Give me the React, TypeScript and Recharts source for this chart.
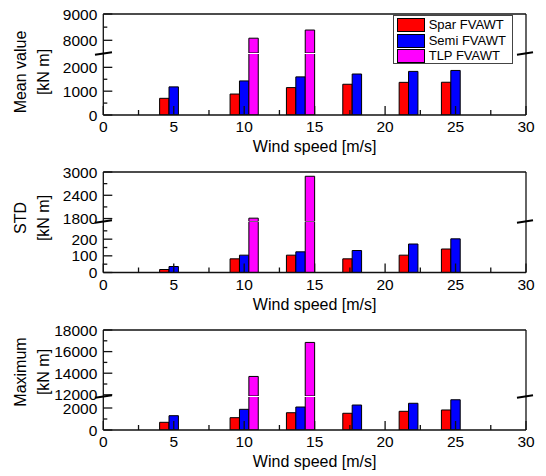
import React from 'react';
import { BarChart, Bar, XAxis, YAxis, ReferenceLine, Legend } from 'recharts';

// ---------- data ----------
const windSpeeds = [5, 10, 14, 18, 22, 25];

const meanSpar: (number | null)[] = [700, 880, 1150, 1290, 1370, 1375];
const meanSemi: (number | null)[] = [1180, 1430, 1600, 1720, 1830, 1870];
const meanTlp: (number | null)[] = [null, 8080, 8390, null, null, null];

const stdSpar: (number | null)[] = [18, 82, 104, 82, 104, 141];
const stdSemi: (number | null)[] = [36, 104, 124, 132, 171, 202];
const stdTlp: (number | null)[] = [null, 1810, 2890, null, null, null];

const maxSpar: (number | null)[] = [700, 1120, 1570, 1520, 1700, 1820];
const maxSemi: (number | null)[] = [1300, 1880, 2090, 2270, 2430, 2750];
const maxTlp: (number | null)[] = [null, 13700, 16850, null, null, null];

const seriesKeys = ['spar', 'semi', 'tlp'];
const seriesNames = ['Spar FVAWT', 'Semi FVAWT', 'TLP FVAWT'];
const seriesColors = ['#ff0000', '#0000ff', '#ff00ff'];

const xTicks = [0, 2.5, 5, 7.5, 10, 12.5, 15, 17.5, 20, 22.5, 25, 27.5, 30];
const xLabelTicks = [0, 5, 10, 15, 20, 25, 30];

const meanUpperTicks = [8000, 8500, 9000];
const meanUpperLabels = [8000, 9000];
const meanLowerTicks = [0, 500, 1000, 1500, 2000];
const meanLowerLabels = [0, 1000, 2000];

const stdUpperTicks = [1800, 2100, 2400, 2700, 3000];
const stdUpperLabels = [1800, 2400, 3000];
const stdLowerTicks = [0, 50, 100, 150, 200, 250];
const stdLowerLabels = [0, 100, 200];

const maxUpperTicks = [12000, 13000, 14000, 15000, 16000, 17000, 18000];
const maxUpperLabels = [12000, 14000, 16000, 18000];
const maxLowerTicks = [0, 1000, 2000];
const maxLowerLabels = [0, 2000];

const makeRows = (a: (number | null)[], b: (number | null)[], c: (number | null)[]) =>
  windSpeeds.map((ws, i) => ({ ws, spar: a[i], semi: b[i], tlp: c[i] }));

// values that lie entirely below the upper segment of a broken axis are not drawn there
const keepAbove = (rows: any[], min: number) =>
  rows.map((r) => {
    const o: any = { ws: r.ws };
    seriesKeys.forEach((k) => {
      o[k] = r[k] != null && r[k] > min ? r[k] : null;
    });
    return o;
  });

// ---------- layout ----------
const W = 546;
const PLOT_LEFT = 103.3;
const PLOT_RIGHT_MARGIN = 20;
const AXIS_COLOR = '#111';
const AXIS_W = 1.3;
const FONT = '"Liberation Sans", Arial, Helvetica, sans-serif';

type PanelSpec = {
  title: string;
  rows: any[];
  plotTop: number;
  breakY: number;
  lowerTop: number;
  bottom: number;
  upperDomain: [number, number];
  lowerDomain: [number, number];
  upperTicks: number[];
  upperLabels: number[];
  lowerTicks: number[];
  lowerLabels: number[];
  titleY: number;
  legend?: boolean;
};

const panels: PanelSpec[] = [
  {
    title: 'Mean value',
    rows: makeRows(meanSpar, meanSemi, meanTlp),
    plotTop: 14, breakY: 53, lowerTop: 54, bottom: 115,
    upperDomain: [7517, 9000], lowerDomain: [0, 2560],
    upperTicks: meanUpperTicks, upperLabels: meanUpperLabels,
    lowerTicks: meanLowerTicks, lowerLabels: meanLowerLabels,
    titleY: 72, legend: true,
  },
  {
    title: 'STD',
    rows: makeRows(stdSpar, stdSemi, stdTlp),
    plotTop: 171.5, breakY: 221, lowerTop: 222, bottom: 272.5,
    upperDomain: [1724, 3000], lowerDomain: [0, 303],
    upperTicks: stdUpperTicks, upperLabels: stdUpperLabels,
    lowerTicks: stdLowerTicks, lowerLabels: stdLowerLabels,
    titleY: 218,
  },
  {
    title: 'Maximum',
    rows: makeRows(maxSpar, maxSemi, maxTlp),
    plotTop: 330, breakY: 396, lowerTop: 397, bottom: 430,
    upperDomain: [11890, 18000], lowerDomain: [0, 3000],
    upperTicks: maxUpperTicks, upperLabels: maxUpperLabels,
    lowerTicks: maxLowerTicks, lowerLabels: maxLowerLabels,
    titleY: 372,
  },
];

// ---------- ticks ----------
const XTick = (props: any) => {
  const { x, y, payload } = props;
  const v = payload.value;
  const major = xLabelTicks.includes(v);
  return (
    <g>
      <line x1={x} x2={x} y1={y} y2={y - (major ? 9 : 5)} stroke={AXIS_COLOR} strokeWidth={AXIS_W} />
      {major && (
        <text x={x} y={y + 17} textAnchor="middle" fontSize={15.5} fill="#000" fontFamily={FONT}>
          {v}
        </text>
      )}
    </g>
  );
};

const makeYTick = (labels: number[]) => (props: any) => {
  const { x, y, payload } = props;
  const v = payload.value;
  const major = labels.includes(v);
  return (
    <g>
      <line x1={x} x2={x + (major ? 9 : 4)} y1={y} y2={y} stroke={AXIS_COLOR} strokeWidth={AXIS_W} />
      {major && (
        <text x={x - 6} y={y} dy="0.36em" textAnchor="end" fontSize={15.5} fill="#000" fontFamily={FONT}>
          {v}
        </text>
      )}
    </g>
  );
};

// ---------- legend ----------
const LegendBox = (props: any) => {
  const payload = [...(props.payload || [])].sort(
    (a: any, b: any) => seriesNames.indexOf(a.value) - seriesNames.indexOf(b.value)
  );
  return (
    <div
      style={{
        position: 'relative',
        width: 120,
        height: 49,
        border: '1px solid #444',
        background: '#fff',
        boxSizing: 'border-box',
        fontFamily: FONT,
      }}
    >
      {payload.map((e: any, i: number) => (
        <div key={i} style={{ position: 'absolute', left: 3, top: 2 + i * 15.7, height: 14, display: 'flex', alignItems: 'center' }}>
          <span
            style={{
              display: 'inline-block',
              width: 28,
              height: 14,
              background: e.color,
              border: '1.2px solid #000',
              boxSizing: 'border-box',
              marginRight: 4,
            }}
          />
          <span style={{ fontSize: 13, color: '#000', lineHeight: '14px', whiteSpace: 'nowrap' }}>{e.value}</span>
        </div>
      ))}
    </div>
  );
};

// ---------- sub chart ----------
type SubProps = {
  rows: any[];
  top: number;
  plotHeight: number;
  domain: [number, number];
  ticks: number[];
  labels: number[];
  showX: boolean;
  topBorder: boolean;
  legend?: boolean;
};

const MT = 12;
const MB = 12;
const XH = 45;

function SubChart({ rows, top, plotHeight, domain, ticks, labels, showX, topBorder, legend }: SubProps) {
  const bottomSpace = showX ? XH : MB;
  const height = MT + plotHeight + bottomSpace;
  return (
    <div style={{ position: 'absolute', left: 0, top: top - MT }}>
      <BarChart
        width={W}
        height={height}
        data={rows}
        margin={{ top: MT, right: PLOT_RIGHT_MARGIN, bottom: showX ? 0 : MB, left: 0 }}
        barGap={0}
        barSize={9.4}
      >
        {seriesKeys.map((k, i) => (
          <Bar
            key={k}
            dataKey={k}
            name={seriesNames[i]}
            fill={seriesColors[i]}
            stroke="#000"
            strokeWidth={1}
            isAnimationActive={false}
          />
        ))}
        <XAxis
          type="number"
          dataKey="ws"
          domain={[0, 30]}
          ticks={xTicks}
          interval={0}
          hide={!showX}
          height={showX ? XH : 0}
          tickLine={false}
          tickSize={0}
          tickMargin={0}
          axisLine={{ stroke: AXIS_COLOR, strokeWidth: AXIS_W }}
          tick={XTick}
          label={
            showX
              ? { value: 'Wind speed [m/s]', position: 'insideBottom', offset: 8, fontSize: 16, fill: '#000', fontFamily: FONT }
              : undefined
          }
        />
        <YAxis
          type="number"
          domain={domain}
          allowDataOverflow
          ticks={ticks}
          interval={0}
          width={PLOT_LEFT}
          tickLine={false}
          tickSize={0}
          tickMargin={0}
          axisLine={{ stroke: AXIS_COLOR, strokeWidth: AXIS_W }}
          tick={makeYTick(labels)}
        />
        <ReferenceLine x={30} stroke={AXIS_COLOR} strokeWidth={AXIS_W} ifOverflow="visible" />
        {topBorder && <ReferenceLine y={domain[1]} stroke={AXIS_COLOR} strokeWidth={AXIS_W} ifOverflow="visible" />}
        {legend && (
          <Legend
            content={LegendBox}
            layout="vertical"
            align="center"
            verticalAlign="middle"
            wrapperStyle={{ left: 392.7, top: 15 - (top - MT), width: 120, height: 49 }}
          />
        )}
      </BarChart>
    </div>
  );
}

export default function App() {
  return (
    <div
      style={{
        position: 'absolute',
        left: 0,
        top: 0,
        width: W,
        height: 476,
        background: '#fff',
        fontFamily: FONT,
        overflow: 'hidden',
      }}
    >
      {panels.map((p, idx) => (
        <React.Fragment key={idx}>
          <SubChart
            rows={p.rows}
            top={p.lowerTop}
            plotHeight={p.bottom - p.lowerTop}
            domain={p.lowerDomain}
            ticks={p.lowerTicks}
            labels={p.lowerLabels}
            showX
            topBorder={false}
          />
          <SubChart
            rows={keepAbove(p.rows, p.upperDomain[0])}
            top={p.plotTop}
            plotHeight={p.breakY - p.plotTop}
            domain={p.upperDomain}
            ticks={p.upperTicks}
            labels={p.upperLabels}
            showX={false}
            topBorder
            legend={p.legend}
          />
        </React.Fragment>
      ))}
      <svg
        width={W}
        height={476}
        style={{ position: 'absolute', left: 0, top: 0, pointerEvents: 'none' }}
      >
        {panels.map((p, idx) => {
          const by = (p.breakY + p.lowerTop) / 2;
          return (
            <g key={idx}>
              <line x1={95} y1={by + 1.2} x2={112} y2={by - 1.2} stroke="#000" strokeWidth={2} />
              <line x1={517} y1={by + 1.2} x2={533} y2={by - 1.2} stroke="#000" strokeWidth={2} />
              <text
                transform={`translate(20,${p.titleY}) rotate(-90)`}
                textAnchor="middle"
                dy="0.36em"
                fontSize={16}
                fill="#000"
                fontFamily={FONT}
              >
                {p.title}
              </text>
              <text
                transform={`translate(43,${p.titleY}) rotate(-90)`}
                textAnchor="middle"
                dy="0.36em"
                fontSize={16}
                fill="#000"
                fontFamily={FONT}
              >
                [kN m]
              </text>
            </g>
          );
        })}
      </svg>
    </div>
  );
}
